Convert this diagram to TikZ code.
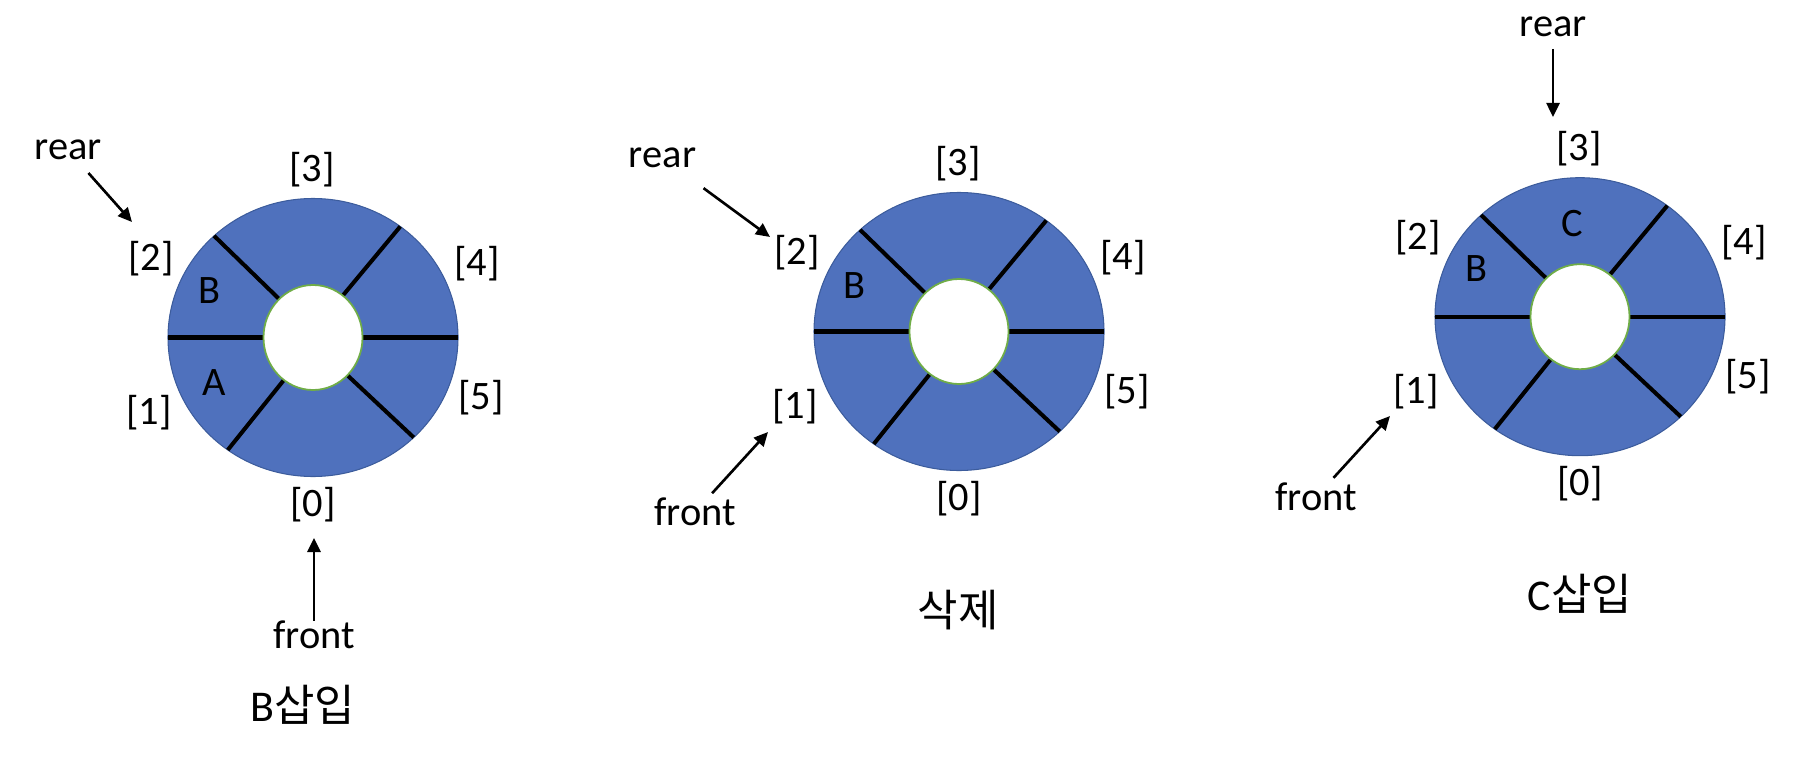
\documentclass[tikz,border=0pt]{standalone}
\usepackage{fontspec}
\setmainfont{Carlito}
\newfontfamily\kofont{Noto Sans CJK KR}
\usepackage{tikz}
\usetikzlibrary{arrows.meta,calc}

\definecolor{ringfill}{HTML}{4F71BD}
\definecolor{ringedge}{HTML}{3C5C9C}
\definecolor{holeedge}{HTML}{70AD47}

\begin{document}
\begin{tikzpicture}[x=0.2mm, y=-0.2mm, >={Triangle[length=2.8mm,width=2.6mm]},
  lbl/.style={font=\fontsize{23}{27}\selectfont, inner sep=0pt},
  steptitle/.style={font=\fontsize{25}{30}\selectfont, inner sep=0pt},
  ptr/.style={->, line width=1.5pt},
  bar/.style={line width=2.3pt}]

  \useasboundingbox (0,0) rectangle (1818,782);

  % Draw the three queues
  \foreach \r/\cx/\cy in {A/313/337.5, B/959/331.5, C/1580/316.7} {
    \coordinate (ring\r) at (\cx,\cy);
    \filldraw[fill=ringfill, draw=ringedge, line width=0.6pt] (ring\r) ellipse [x radius=145, y radius=139];
    \foreach \a in {0,180,-133,-53,126,46}
      \draw[bar] ($(ring\r)+({49.5*cos(\a)},{52.5*sin(\a)})$) -- ($(ring\r)+({145*cos(\a)},{139*sin(\a)})$);
    \filldraw[fill=white, draw=holeedge, line width=1pt] (ring\r) ellipse [x radius=49.5, y radius=52.5];
    % slot numbers
    \foreach \i/\dx/\dy in {0/0/167, 1/-164/75, 2/-162/-79, 3/-1/-168, 4/164/-74, 5/168/60}
      \node[lbl] (idx\r\i) at ($(ring\r)+(\dx,\dy)$) {[\i]};
  }

  % Stored values
  \node[lbl] (valA2) at (209,291) {B};
  \node[lbl] (valA1) at (214,383) {A};
  \node[lbl] (valB2) at (854,286) {B};
  \node[lbl] (valC2) at (1476,269) {B};
  \node[lbl] (valC3) at (1572,224) {C};

  % Pointers
  \node[lbl] (rearA) at (68,150) {rear};
  \node[lbl] (frontA) at (314,635) {front};
  \node[lbl] (rearB) at (662.5,158) {rear};
  \node[lbl] (frontB) at (695,512) {front};
  \node[lbl] (rearC) at (1553,27) {rear};
  \node[lbl] (frontC) at (1316,497) {front};

  \coordinate (rearAtip) at (132,222);
  \coordinate (frontAtip) at (314,538);
  \coordinate (rearBtip) at (770,237);
  \coordinate (frontBtip) at (768,432);
  \coordinate (rearCtip) at (1553,117);
  \coordinate (frontCtip) at (1390,416);

  \draw[ptr, shorten <=3.4mm] (rearA) -- (rearAtip);
  \draw[ptr] (frontA) -- (frontAtip);
  \draw[ptr, shorten <=6.7mm] (rearB) -- (rearBtip);
  \draw[ptr, shorten <=1.2mm] (frontB) -- (frontBtip);
  \draw[ptr, shorten <=2.3mm] (rearC) -- (rearCtip);
  \draw[ptr, shorten <=1.3mm] (frontC) -- (frontCtip);

  % Captions
  \node[steptitle] (titleA) at (303,705) {B\kofont 삽입};
  \node[steptitle] (titleB) at (958,610) {\kofont 삭제};
  \node[steptitle] (titleC) at (1580,594) {C\kofont 삽입};
\end{tikzpicture}
\end{document}
